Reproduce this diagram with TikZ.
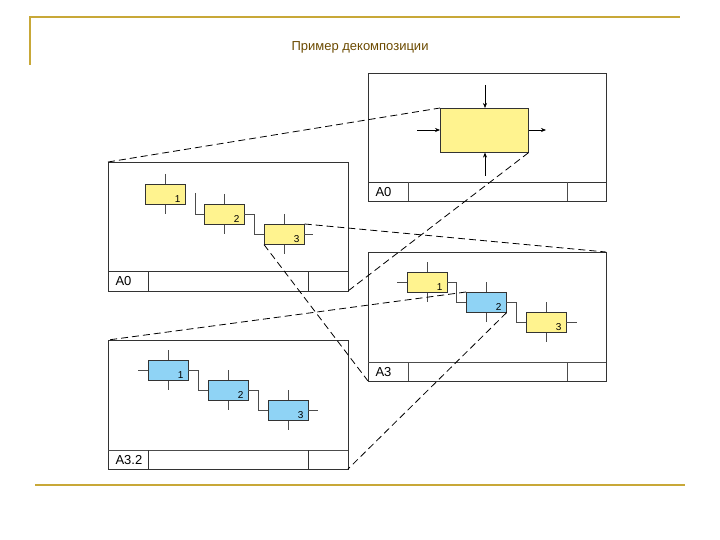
\documentclass[tikz,border=0pt]{standalone}
\usepackage{fontspec}
\setmainfont{Liberation Sans}
\usetikzlibrary{arrows.meta}
\definecolor{gold}{HTML}{C8A838}
\definecolor{ttl}{HTML}{6B4A00}
\definecolor{yel}{HTML}{FFF38F}
\definecolor{blu}{HTML}{8FD3F5}
\tikzset{
 frame/.style={draw=black!80, line width=0.8pt},
 thin/.style={draw=black!70, line width=0.6pt},
 dsh/.style={draw=black, line width=0.8pt, dash pattern=on 7pt off 4pt},
 yb/.style={draw=black!80, fill=yel, line width=0.6pt},
 bb/.style={draw=black!80, fill=blu, line width=0.6pt},
 lab/.style={font=\fontsize{10}{10}\selectfont, anchor=south east, inner sep=2pt},
 foot/.style={font=\fontsize{13}{13}\selectfont, anchor=west},
 arr/.style={-{Stealth[length=5pt,width=4pt]}, line width=0.6pt}
}
\newcommand{\panel}[5]{% name x1 y1 x2 y2
 \draw[frame] (#2,#3) rectangle (#4,#5);
 \coordinate (#1tl) at (#2,#3); \coordinate (#1br) at (#4,#5);
 \coordinate (#1tr) at (#4,#3); \coordinate (#1bl) at (#2,#5);
}
\newcommand{\blk}[6]{% name style x y label
 \draw[thin] (#3+20,#4-10) -- (#3+20,#4+30);
 \node[#2, minimum width=40pt, minimum height=20pt, inner sep=0, anchor=north west] (#1) at (#3,#4) {};
 \node[lab] at ([xshift=-3pt]#1.south east) {#5};
}
\begin{document}
\begin{tikzpicture}[x=1pt,y=-1pt]
\useasboundingbox (0,0) rectangle (720,540);
\draw[gold, line width=1.5pt] (30,65) -- (30,17) -- (680,17);
\draw[gold, line width=1.5pt] (35,485) -- (685,485);
\node[text=ttl, font=\fontsize{13}{13}\selectfont] (title) at (360,47) {Пример декомпозиции};

% Panel 1 (top right A0)
\panel{pa}{368}{73}{606}{201}
\draw[frame] (368,182) -- (606,182);
\draw[thin] (408,182) -- (408,201); \draw[thin] (567,182) -- (567,201);
\node[foot] (fa) at (372,192) {A0};
\node[yb, minimum width=88pt, minimum height=44pt, inner sep=0, anchor=north west] (big) at (440,108) {};
\coordinate (at) at (485,85); \coordinate (al) at (417,130);
\coordinate (ar) at (546,130); \coordinate (ab) at (485,176);
\draw[arr] (at) -- (big.north -| at);
\draw[arr] (al) -- (big.west |- al);
\draw[arr] (big.east |- ar) -- (ar);
\draw[arr] (ab) -- (big.south -| ab);

% Panel 2 (left A0)
\panel{pb}{108}{162}{348}{291}
\draw[frame] (108,271) -- (348,271);
\draw[frame] (148,271) -- (148,291); \draw[frame] (308,271) -- (308,291);
\node[foot] (fb) at (112,281) {A0};
\blk{b1}{yb}{145}{184}{1}{}
\blk{b2}{yb}{204}{204}{2}{}
\blk{b3}{yb}{264}{224}{3}{}
\draw[thin] (195,193) -- (195,214) -- (204,214);
\draw[thin] (244,214) -- (254,214) -- (254,234) -- (264,234);
\draw[thin] (304,234) -- (313,234);

% Panel 3 (A3)
\panel{pc}{368}{252}{606}{381}
\draw[thin] (368,362) -- (606,362);
\draw[thin] (408,362) -- (408,381); \draw[thin] (567,362) -- (567,381);
\node[foot] (fc) at (372,372) {A3};
\blk{c1}{yb}{407}{272}{1}{}
\blk{c2}{bb}{466}{292}{2}{}
\blk{c3}{yb}{526}{312}{3}{}
\draw[thin] (397,282) -- (407,282);
\draw[thin] (447,282) -- (456,282) -- (456,302) -- (466,302);
\draw[thin] (506,302) -- (516,302) -- (516,322) -- (526,322);
\draw[thin] (566,322) -- (577,322);

% Panel 4 (A3.2)
\panel{pd}{108}{340}{348}{469}
\draw[thin] (108,450) -- (348,450);
\draw[frame] (148,450) -- (148,469); \draw[frame] (308,450) -- (308,469);
\node[foot] (fd) at (112,460) {A3.2};
\blk{d1}{bb}{148}{360}{1}{}
\blk{d2}{bb}{208}{380}{2}{}
\blk{d3}{bb}{268}{400}{3}{}
\draw[thin] (138,370) -- (148,370);
\draw[thin] (188,370) -- (198,370) -- (198,390) -- (208,390);
\draw[thin] (248,390) -- (258,390) -- (258,410) -- (268,410);
\draw[thin] (308,410) -- (318,410);

% dashed projection lines
\draw[dsh] (pbtl) -- (big.north west);
\draw[dsh] (big.south east) -- (pbbr);
\draw[dsh] (b3.north east) -- (pctr);
\draw[dsh] (b3.south west) -- (pcbl);
\draw[dsh] (c2.north west) -- (pdtl);
\draw[dsh] (c2.south east) -- (pdbr);
\end{tikzpicture}
\end{document}
